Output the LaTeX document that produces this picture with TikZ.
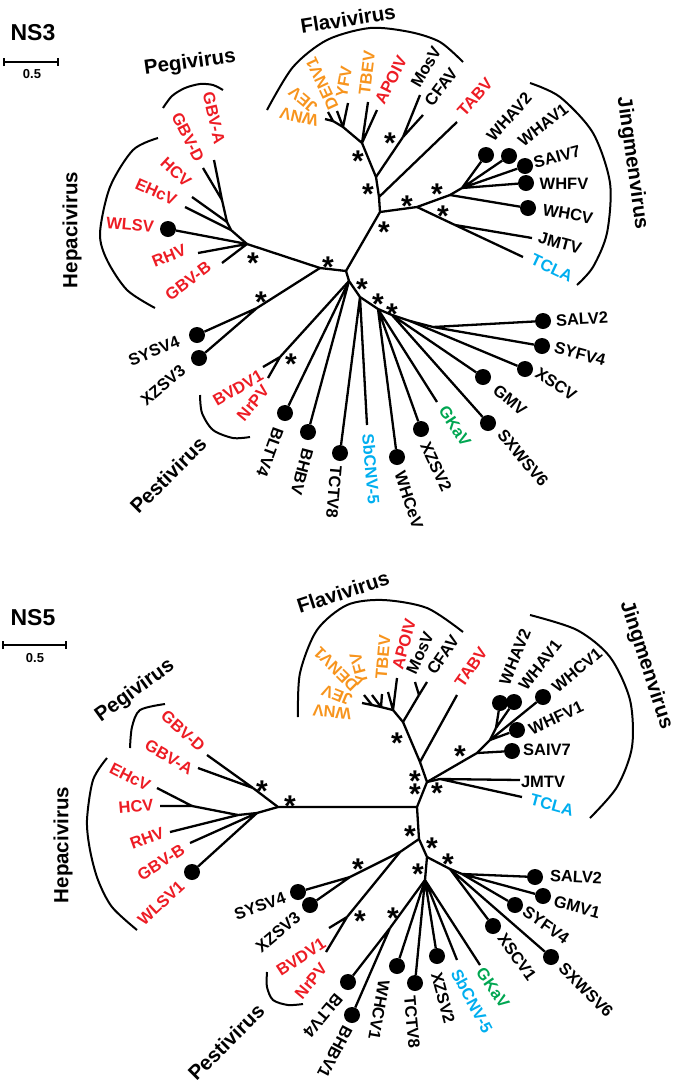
\documentclass[tikz,border=0pt]{standalone}
\usepackage{fontspec}
\setmainfont{Liberation Sans}
\usetikzlibrary{arrows.meta}
\definecolor{vred}{RGB}{237,28,36}
\definecolor{vorange}{RGB}{247,148,29}
\definecolor{vblue}{RGB}{0,174,239}
\definecolor{vgreen}{RGB}{0,166,81}
\tikzset{
  br/.style={line width=2.3pt, line join=round},
  clade/.style={line width=2pt},
  dot/.style={circle, fill=black, inner sep=0pt, minimum size=16pt},
  lbl/.style={font=\fontsize{16.5}{16.5}\selectfont\bfseries, inner sep=0pt},
  grp/.style={font=\fontsize{20.5}{20.5}\selectfont\bfseries, inner sep=0pt},
  ttl/.style={font=\fontsize{23}{23}\selectfont\bfseries, inner sep=0pt},
  bs/.style={font=\fontsize{30}{30}\selectfont\bfseries, inner sep=0pt, yshift=-6.5pt},
  scalebar/.style={line width=1.6pt, {Bar[width=8pt]}-{Bar[width=8pt]}}
}
\begin{document}
\begin{tikzpicture}[x=1pt,y=-1pt]
\useasboundingbox (0,0) rectangle (681,1088);

% ================= NS3 =================
\node[ttl] (a-title) at (33,33) {NS3};
\coordinate (a-s0) at (3,62);
\coordinate (a-s1) at (59,62);
\draw[scalebar] (a-s0) -- (a-s1);
\node[font=\fontsize{13}{13}\selectfont\bfseries] (a-scale) at (32,74) {0.5};

% internal nodes
\coordinate (a-c0) at (346,271);
\coordinate (a-hn) at (320,268);
\coordinate (a-h0) at (247,244);
\coordinate (a-h1) at (231,230);
\coordinate (a-hp) at (227,222);
\coordinate (a-hq) at (222,200);
\coordinate (a-sx) at (257,308);
\coordinate (a-fj) at (380,212);
\coordinate (a-tb) at (379,197);
\coordinate (a-f0) at (376,177);
\coordinate (a-mc) at (403,137);
\coordinate (a-f1) at (362,143);
\coordinate (a-f2) at (343,127);
\coordinate (a-f3) at (333,121);
\coordinate (a-jm1) at (417,207);
\coordinate (a-jm2) at (450,195);
\coordinate (a-jm4) at (462,188);
\coordinate (a-jm3) at (455,225);
\coordinate (a-lo0) at (349,281);
\coordinate (a-pv) at (280,357);
\coordinate (a-lo1) at (360,297);
\coordinate (a-lo2) at (378,309);
\coordinate (a-lo3) at (392,315);
\coordinate (a-lo4) at (410,321);
\coordinate (a-lo5) at (433,327);

% tips
\coordinate (a-gbva) at (214,160);
\coordinate (a-gbvd) at (203,168);
\coordinate (a-hcv) at (192,197);
\coordinate (a-ehcv) at (185,207);
\coordinate (a-rhv) at (198,253);
\coordinate (a-gbvb) at (222,263);
\coordinate (a-wnv) at (325,119);
\coordinate (a-jev) at (328,112);
\coordinate (a-denv) at (337,111);
\coordinate (a-yfv) at (348,103);
\coordinate (a-tbev) at (368,102);
\coordinate (a-apoiv) at (377,110);
\coordinate (a-mosv) at (420,95);
\coordinate (a-cfav) at (423,115);
\coordinate (a-tabv) at (457,122);
\coordinate (a-jmtv) at (532,238);
\coordinate (a-tcla) at (523,257);
\coordinate (a-bvdv) at (263,367);
\coordinate (a-nrpv) at (268,378);
\coordinate (a-sbcnv) at (367,425);
\coordinate (a-gkav) at (437,402);
\node[dot] (a-wlsv) at (168,229) {};
\node[dot] (a-sysv4) at (197,335) {};
\node[dot] (a-xzsv3) at (199,358) {};
\node[dot] (a-whav2) at (486,155) {};
\node[dot] (a-whav1) at (509,156) {};
\node[dot] (a-saiv7) at (525,166) {};
\node[dot] (a-whfv) at (526,183) {};
\node[dot] (a-whcv) at (528,208) {};
\node[dot] (a-bltv4) at (285,413) {};
\node[dot] (a-bhbv) at (308,432) {};
\node[dot] (a-tctv8) at (340,453) {};
\node[dot] (a-whcev) at (397,457) {};
\node[dot] (a-xzsv2) at (421,429) {};
\node[dot] (a-sxwsv6) at (488,423) {};
\node[dot] (a-gmv) at (483,377) {};
\node[dot] (a-xscv) at (525,369) {};
\node[dot] (a-syfv4) at (542,346) {};
\node[dot] (a-salv2) at (543,321) {};

% branches
\draw[br] (a-h0) -- (a-hn) -- (a-c0) -- (a-fj) -- (a-tb) -- (a-f0) -- (a-f1) -- (a-f2) -- (a-f3);
\draw[br] (a-hn) -- (a-sx);
\draw[br] (a-c0) -- (a-lo0) -- (a-lo1) -- (a-lo2) -- (a-lo3) -- (a-lo4) -- (a-lo5);
\draw[br] (a-f0) -- (a-mc);
\draw[br] (a-fj) -- (a-jm1) -- (a-jm2) -- (a-jm4);
\draw[br] (a-jm1) -- (a-jm3);
\draw[br] (a-lo0) -- (a-pv);
\draw[br] (a-h0) -- (a-h1) -- (a-hp) -- (a-hq);
\draw[br] (a-hq) -- (a-gbva) (a-hq) -- (a-gbvd) (a-hp) -- (a-hcv) (a-h1) -- (a-ehcv);
\draw[br] (a-h0) -- (a-wlsv) (a-h0) -- (a-rhv) (a-h0) -- (a-gbvb);
\draw[br] (a-f3) -- (a-wnv) (a-f3) -- (a-jev) (a-f2) -- (a-denv) (a-f2) -- (a-yfv);
\draw[br] (a-f1) -- (a-tbev) (a-f1) -- (a-apoiv) (a-mc) -- (a-mosv) (a-mc) -- (a-cfav) (a-tb) -- (a-tabv);
\draw[br] (a-jm4) -- (a-whav2) (a-jm4) -- (a-whav1) (a-jm4) -- (a-saiv7) (a-jm4) -- (a-whfv);
\draw[br] (a-jm2) -- (a-whcv) (a-jm3) -- (a-jmtv) (a-jm3) -- (a-tcla);
\draw[br] (a-sx) -- (a-sysv4) (a-sx) -- (a-xzsv3) (a-pv) -- (a-bvdv) (a-pv) -- (a-nrpv);
\draw[br] (a-lo0) -- (a-bltv4) (a-lo0) -- (a-bhbv) (a-lo1) -- (a-tctv8) (a-lo1) -- (a-sbcnv);
\draw[br] (a-lo2) -- (a-whcev) (a-lo2) -- (a-xzsv2) (a-lo2) -- (a-gkav);
\draw[br] (a-lo3) -- (a-sxwsv6) (a-lo3) -- (a-gmv) (a-lo4) -- (a-xscv);
\draw[br] (a-lo5) -- (a-syfv4) (a-lo5) -- (a-salv2);

% support stars
\node[bs] (a-st1) at (358,155) {*};
\node[bs] (a-st2) at (368,188) {*};
\node[bs] (a-st3) at (390,137) {*};
\node[bs] (a-st4) at (384,226) {*};
\node[bs] (a-st5) at (407,200) {*};
\node[bs] (a-st6) at (437,188) {*};
\node[bs] (a-st7) at (443,210) {*};
\node[bs] (a-st8) at (328,261) {*};
\node[bs] (a-st9) at (253,257) {*};
\node[bs] (a-st10) at (261,296) {*};
\node[bs] (a-st11) at (362,283) {*};
\node[bs] (a-st12) at (378,298) {*};
\node[bs] (a-st13) at (392,308) {*};
\node[bs] (a-st14) at (291,358) {*};

% tip labels
\node[lbl, vred, rotate=-77] (a-l-gbva) at (214,118) {GBV-A};
\node[lbl, vred, rotate=-63] (a-l-gbvd) at (188,137) {GBV-D};
\node[lbl, vred, rotate=-43] (a-l-hcv) at (176,172) {HCV};
\node[lbl, vred, rotate=-24] (a-l-ehcv) at (156,192) {EHcV};
\node[lbl, vred, rotate=-5] (a-l-wlsv) at (130,225) {WLSV};
\node[lbl, vred, rotate=22] (a-l-rhv) at (169,256) {RHV};
\node[lbl, vred, rotate=37] (a-l-gbvb) at (188,281) {GBV-B};
\node[lbl, vorange, rotate=167] (a-l-wnv) at (299,117) {WNV};
\node[lbl, vorange, rotate=140] (a-l-jev) at (303,100) {JEV};
\node[lbl, vorange, rotate=115] (a-l-denv) at (322,84) {DENV1};
\node[lbl, vorange, rotate=80] (a-l-yfv) at (344,82) {YFV};
\node[lbl, vorange, rotate=83] (a-l-tbev) at (367,73) {TBEV};
\node[lbl, vred, rotate=63] (a-l-apoiv) at (391,80) {APOIV};
\node[lbl, rotate=60] (a-l-mosv) at (426,67) {MosV};
\node[lbl, rotate=53] (a-l-cfav) at (441,87) {CFAV};
\node[lbl, vred, rotate=48] (a-l-tabv) at (475,97) {TABV};
\node[lbl, rotate=48] (a-l-whav2) at (509,117) {WHAV2};
\node[lbl, rotate=38] (a-l-whav1) at (543,125) {WHAV1};
\node[lbl, rotate=15] (a-l-saiv7) at (557,157) {SAIV7};
\node[lbl, rotate=0] (a-l-whfv) at (564,184) {WHFV};
\node[lbl, rotate=-10] (a-l-whcv) at (568,214) {WHCV};
\node[lbl, rotate=-15] (a-l-jmtv) at (560,243) {JMTV};
\node[lbl, vblue, rotate=-25] (a-l-tcla) at (552,268) {TCLA};
\node[lbl, rotate=3] (a-l-salv2) at (582,319) {SALV2};
\node[lbl, rotate=-15] (a-l-syfv4) at (580,354) {SYFV4};
\node[lbl, rotate=-33] (a-l-xscv) at (556,384) {XSCV};
\node[lbl, rotate=-40] (a-l-gmv) at (510,400) {GMV};
\node[lbl, rotate=-50] (a-l-sxwsv6) at (523,458) {SXWSV6};
\node[lbl, vgreen, rotate=-57] (a-l-gkav) at (455,426) {GKaV};
\node[lbl, rotate=-65] (a-l-xzsv2) at (436,467) {XZSV2};
\node[lbl, rotate=-72] (a-l-whcev) at (409,500) {WHCeV};
\node[lbl, vblue, rotate=-85] (a-l-sbcnv) at (371,469) {SbCNV-5};
\node[lbl, rotate=-95] (a-l-tctv8) at (334,492) {TCTV8};
\node[lbl, rotate=-105] (a-l-bhbv) at (302,472) {BHBV};
\node[lbl, rotate=-110] (a-l-bltv4) at (270,452) {BLTV4};
\node[lbl, vred, rotate=50] (a-l-nrpv) at (253,403) {NrPV};
\node[lbl, vred, rotate=30] (a-l-bvdv) at (238,388) {BVDV1};
\node[lbl, rotate=22] (a-l-sysv4) at (154,351) {SYSV4};
\node[lbl, rotate=40] (a-l-xzsv3) at (163,385) {XZSV3};

% clades
\draw[clade] plot[smooth] coordinates {(163,108) (172,96) (185,88) (200,84) (213,85) (223,90)};
\draw[clade] plot[smooth] coordinates {(158,138) (133,150) (110,187) (100,233) (107,260) (127,290) (155,308)};
\draw[clade] plot[smooth] coordinates {(267,110) (293,67) (327,40) (370,28) (410,32) (440,42) (463,62)};
\draw[clade] plot[smooth] coordinates {(530,83) (560,97) (593,133) (610,183) (607,233) (593,267) (577,285)};
\draw[clade] plot[smooth] coordinates {(200,395) (202,413) (213,430) (233,438) (250,437)};
\node[grp, rotate=8] (a-g-pegi) at (190,63) {Pegivirus};
\node[grp, rotate=9] (a-g-flavi) at (348,19) {Flavivirus};
\node[grp, rotate=90] (a-g-hepa) at (72,230) {Hepacivirus};
\node[grp, rotate=-82] (a-g-jing) at (632,163) {Jingmenvirus};
\node[grp, rotate=45] (a-g-pesti) at (168,475) {Pestivirus};

% ================= NS5 =================
\node[ttl] (b-title) at (33,618) {NS5};
\coordinate (b-s0) at (2,645);
\coordinate (b-s1) at (67,645);
\draw[scalebar] (b-s0) -- (b-s1);
\node[font=\fontsize{13}{13}\selectfont\bfseries] (b-scale) at (35,658) {0.5};

% internal nodes
\coordinate (b-c0) at (417,807);
\coordinate (b-hn) at (278,807);
\coordinate (b-pn) at (253,788);
\coordinate (b-h1) at (257,813);
\coordinate (b-h2) at (238,815);
\coordinate (b-h3) at (192,806);
\coordinate (b-fj) at (427,782);
\coordinate (b-tb) at (420,762);
\coordinate (b-fl) at (403,722);
\coordinate (b-mc) at (419,695);
\coordinate (b-fa) at (393,710);
\coordinate (b-fb) at (381,707);
\coordinate (b-fc) at (372,705);
\coordinate (b-jj) at (440,779);
\coordinate (b-jm1) at (477,753);
\coordinate (b-jm2) at (490,740);
\coordinate (b-jm3) at (496,728);
\coordinate (b-lo0) at (419,839);
\coordinate (b-lq) at (400,852);
\coordinate (b-sx) at (350,877);
\coordinate (b-pv) at (347,917);
\coordinate (b-lo1) at (427,857);
\coordinate (b-lo2) at (425,880);
\coordinate (b-bb) at (390,928);
\coordinate (b-r1) at (450,869);
\coordinate (b-r2) at (462,874);

% tips
\coordinate (b-gbvd) at (207,755);
\coordinate (b-gbva) at (198,768);
\coordinate (b-ehcv) at (157,788);
\coordinate (b-hcv) at (160,806);
\coordinate (b-rhv) at (170,832);
\coordinate (b-gbvb) at (190,843);
\coordinate (b-wnv) at (362,703);
\coordinate (b-jev) at (364,695);
\coordinate (b-denv) at (372,695);
\coordinate (b-yfv) at (382,694);
\coordinate (b-tbev) at (388,692);
\coordinate (b-apoiv) at (397,678);
\coordinate (b-mosv) at (415,682);
\coordinate (b-cfav) at (427,682);
\coordinate (b-tabv) at (457,695);
\coordinate (b-jmtv) at (520,780);
\coordinate (b-tcla) at (522,797);
\coordinate (b-bvdv) at (329,928);
\coordinate (b-nrpv) at (326,952);
\coordinate (b-sbcnv) at (457,960);
\coordinate (b-gkav) at (480,965);
\node[dot] (b-wlsv1) at (192,872) {};
\node[dot] (b-sysv4) at (298,892) {};
\node[dot] (b-xzsv3) at (310,905) {};
\node[dot] (b-saiv7) at (512,751) {};
\node[dot] (b-whfv1) at (517,730) {};
\node[dot] (b-whcv1) at (543,697) {};
\node[dot] (b-whav2) at (500,703) {};
\node[dot] (b-whav1) at (514,702) {};
\node[dot] (b-salv2) at (535,877) {};
\node[dot] (b-gmv1) at (543,896) {};
\node[dot] (b-syfv4) at (515,905) {};
\node[dot] (b-xscv1) at (493,926) {};
\node[dot] (b-sxwsv6) at (551,957) {};
\node[dot] (b-bltv4) at (348,982) {};
\node[dot] (b-bhbv1) at (352,1015) {};
\node[dot] (b-whcv1x) at (397,966) {};
\node[dot] (b-tctv8) at (415,983) {};
\node[dot] (b-xzsv2) at (437,956) {};

% branches
\draw[br] (b-pn) -- (b-hn) -- (b-c0) -- (b-fj) -- (b-tb) -- (b-fl) -- (b-fa) -- (b-fb) -- (b-fc);
\draw[br] (b-hn) -- (b-h1) -- (b-h2) -- (b-h3);
\draw[br] (b-fl) -- (b-mc);
\draw[br] (b-fj) -- (b-jm1) -- (b-jm2) -- (b-jm3);
\draw[br] (b-fj) -- (b-jj);
\draw[br] (b-c0) -- (b-lo0) -- (b-lo1) -- (b-lo2) -- (b-bb);
\draw[br] (b-lo0) -- (b-lq) -- (b-sx);
\draw[br] (b-lq) -- (b-pv);
\draw[br] (b-lo1) -- (b-r1) -- (b-r2);
\draw[br] (b-pn) -- (b-gbvd) (b-pn) -- (b-gbva) (b-h3) -- (b-ehcv) (b-h3) -- (b-hcv);
\draw[br] (b-h2) -- (b-rhv) (b-h1) -- (b-gbvb) (b-h1) -- (b-wlsv1);
\draw[br] (b-fa) -- (b-apoiv) (b-fa) -- (b-tbev) (b-fb) -- (b-yfv) (b-fb) -- (b-denv);
\draw[br] (b-fc) -- (b-wnv) (b-fc) -- (b-jev) (b-mc) -- (b-mosv) (b-mc) -- (b-cfav) (b-tb) -- (b-tabv);
\draw[br] (b-jj) -- (b-jmtv) (b-jj) -- (b-tcla) (b-jm1) -- (b-saiv7);
\draw[br] (b-jm2) -- (b-whfv1) (b-jm2) -- (b-whcv1) (b-jm3) -- (b-whav2) (b-jm3) -- (b-whav1);
\draw[br] (b-sx) -- (b-sysv4) (b-sx) -- (b-xzsv3) (b-pv) -- (b-bvdv) (b-pv) -- (b-nrpv);
\draw[br] (b-bb) -- (b-bltv4) (b-bb) -- (b-bhbv1);
\draw[br] (b-lo2) -- (b-whcv1x) (b-lo2) -- (b-tctv8) (b-lo2) -- (b-xzsv2) (b-lo2) -- (b-sbcnv) (b-lo2) -- (b-gkav);
\draw[br] (b-r1) -- (b-xscv1) (b-r1) -- (b-sxwsv6);
\draw[br] (b-r2) -- (b-syfv4) (b-r2) -- (b-gmv1) (b-r2) -- (b-salv2);

% support stars
\node[bs] (b-st1) at (262,785) {*};
\node[bs] (b-st2) at (290,800) {*};
\node[bs] (b-st3) at (397,737) {*};
\node[bs] (b-st4) at (415,775) {*};
\node[bs] (b-st5) at (415,788) {*};
\node[bs] (b-st6) at (437,787) {*};
\node[bs] (b-st7) at (460,750) {*};
\node[bs] (b-st8) at (410,830) {*};
\node[bs] (b-st9) at (432,842) {*};
\node[bs] (b-st10) at (418,868) {*};
\node[bs] (b-st11) at (448,858) {*};
\node[bs] (b-st12) at (358,863) {*};
\node[bs] (b-st13) at (360,915) {*};
\node[bs] (b-st14) at (393,912) {*};

% tip labels
\node[lbl, vred, rotate=-42] (b-l-gbvd) at (183,731) {GBV-D};
\node[lbl, vred, rotate=-30] (b-l-gbva) at (169,757) {GBV-A};
\node[lbl, vred, rotate=-27] (b-l-ehcv) at (130,777) {EHcV};
\node[lbl, vred, rotate=5] (b-l-hcv) at (136,806) {HCV};
\node[lbl, vred, rotate=20] (b-l-rhv) at (147,838) {RHV};
\node[lbl, vred, rotate=33] (b-l-gbvb) at (161,862) {GBV-B};
\node[lbl, vred, rotate=43] (b-l-wlsv1) at (161,903) {WLSV1};
\node[lbl, vorange, rotate=175] (b-l-wnv) at (332,712) {WNV};
\node[lbl, vorange, rotate=158] (b-l-jev) at (337,695) {JEV};
\node[lbl, vorange, rotate=135] (b-l-denv) at (336,669) {DENV1};
\node[lbl, vorange, rotate=105] (b-l-yfv) at (359,669) {YFV};
\node[lbl, vorange, rotate=85] (b-l-tbev) at (383,657) {TBEV};
\node[lbl, vred, rotate=75] (b-l-apoiv) at (404,644) {APOIV};
\node[lbl, rotate=65] (b-l-mosv) at (420,653) {MosV};
\node[lbl, rotate=55] (b-l-cfav) at (443,655) {CFAV};
\node[lbl, vred, rotate=55] (b-l-tabv) at (471,667) {TABV};
\node[lbl, rotate=68] (b-l-whav2) at (515,657) {WHAV2};
\node[lbl, rotate=52] (b-l-whav1) at (540,665) {WHAV1};
\node[lbl, rotate=40] (b-l-whcv1) at (577,670) {WHCV1};
\node[lbl, rotate=25] (b-l-whfv1) at (556,718) {WHFV1};
\node[lbl, rotate=0] (b-l-saiv7) at (547,750) {SAIV7};
\node[lbl, rotate=0] (b-l-jmtv) at (543,782) {JMTV};
\node[lbl, vblue, rotate=-15] (b-l-tcla) at (552,805) {TCLA};
\node[lbl, rotate=-3] (b-l-salv2) at (576,877) {SALV2};
\node[lbl, rotate=-15] (b-l-gmv1) at (577,907) {GMV1};
\node[lbl, rotate=-35] (b-l-syfv4) at (546,925) {SYFV4};
\node[lbl, rotate=-55] (b-l-xscv1) at (517,957) {XSCV1};
\node[lbl, rotate=-45] (b-l-sxwsv6) at (586,990) {SXWSV6};
\node[lbl, vgreen, rotate=-55] (b-l-gkav) at (493,988) {GKaV};
\node[lbl, vblue, rotate=-62] (b-l-sbcnv) at (472,1001) {SbCNV-5};
\node[lbl, rotate=-75] (b-l-xzsv2) at (443,998) {XZSV2};
\node[lbl, rotate=-85] (b-l-tctv8) at (412,1022) {TCTV8};
\node[lbl, rotate=-100] (b-l-whcv1x) at (379,1010) {WHCV1};
\node[lbl, rotate=-118] (b-l-bhbv1) at (335,1052) {BHBV1};
\node[lbl, rotate=-130] (b-l-bltv4) at (323,1016) {BLTV4};
\node[lbl, vred, rotate=50] (b-l-nrpv) at (311,981) {NrPV};
\node[lbl, vred, rotate=33] (b-l-bvdv) at (301,957) {BVDV1};
\node[lbl, rotate=20] (b-l-sysv4) at (260,906) {SYSV4};
\node[lbl, rotate=40] (b-l-xzsv3) at (278,932) {XZSV3};

% clades
\draw[clade] plot[smooth] coordinates {(130,748) (132,727) (140,710) (165,704)};
\draw[clade] plot[smooth] coordinates {(107,758) (93,780) (87,820) (90,850) (98,880) (112,907) (137,930)};
\draw[clade] plot[smooth] coordinates {(298,717) (300,673) (317,630) (347,605) (383,600) (427,608) (463,632)};
\draw[clade] plot[smooth] coordinates {(530,615) (577,630) (610,657) (630,700) (632,747) (617,787) (590,818)};
\draw[clade] plot[smooth] coordinates {(267,972) (267,987) (273,1000) (288,1005) (303,1004)};
\node[grp, rotate=36] (b-g-pegi) at (135,691) {Pegivirus};
\node[grp, rotate=18] (b-g-flavi) at (343,592) {Flavivirus};
\node[grp, rotate=90] (b-g-hepa) at (63,845) {Hepacivirus};
\node[grp, rotate=-72] (b-g-jing) at (646,665) {Jingmenvirus};
\node[grp, rotate=45] (b-g-pesti) at (226,1042) {Pestivirus};
\end{tikzpicture}
\end{document}
